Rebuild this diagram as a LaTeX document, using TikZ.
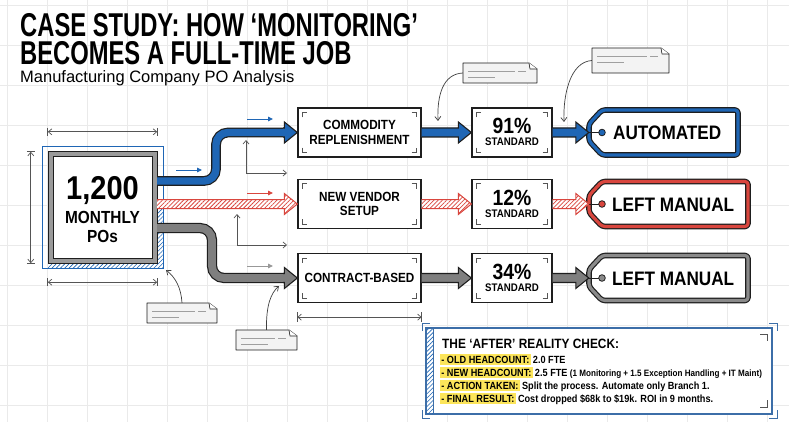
\documentclass[tikz,border=0pt]{standalone}
\usepackage{fontspec}
\setmainfont{Liberation Sans}
\newfontfamily\cf{Liberation Sans}[FakeStretch=0.88]
\newfontfamily\tf{Liberation Sans}[FakeStretch=0.72]
\usetikzlibrary{arrows.meta,patterns.meta,calc}
\definecolor{dark}{HTML}{1E1E1E}
\definecolor{myblue}{HTML}{1F66B5}
\definecolor{myred}{HTML}{D9463E}
\definecolor{mygray}{HTML}{7F7F7F}
\definecolor{taggray}{HTML}{8A8A8A}
\definecolor{gridc}{HTML}{EAEAEA}
\definecolor{hly}{HTML}{FCE55A}
\definecolor{notefill}{HTML}{F3F3F3}
\definecolor{markc}{HTML}{555555}
\definecolor{dimc}{HTML}{555555}
\definecolor{boxgray}{HTML}{9A9A9A}
\definecolor{ibc}{HTML}{3C6EA8}

\newcommand\cmarks[1]{\draw[markc, line width=0.7]
 ($(#1.north west)+(5,10)$) -- ($(#1.north west)+(5,5)$) -- ($(#1.north west)+(10,5)$)
 ($(#1.north east)+(-10,5)$) -- ($(#1.north east)+(-5,5)$) -- ($(#1.north east)+(-5,10)$)
 ($(#1.south west)+(5,-10)$) -- ($(#1.south west)+(5,-5)$) -- ($(#1.south west)+(10,-5)$)
 ($(#1.south east)+(-10,-5)$) -- ($(#1.south east)+(-5,-5)$) -- ($(#1.south east)+(-5,-10)$);}

\newcommand\blockarr[4]{%
 \path[#1] let \p1=(#3), \p2=(#4) in (\x1,\y1+4.5pt) -- (\x2-13pt,\y1+4.5pt) -- (\x2-13pt,\y1+10.5pt) -- (\x2,\y1) -- (\x2-13pt,\y1-10.5pt) -- (\x2-13pt,\y1-4.5pt) -- (\x1,\y1-4.5pt) -- cycle;
 \path[#2] let \p1=(#3), \p2=(#4) in (\x1,\y1+4.5pt) -- (\x2-13pt,\y1+4.5pt) -- (\x2-13pt,\y1+10.5pt) -- (\x2,\y1) -- (\x2-13pt,\y1-10.5pt) -- (\x2-13pt,\y1-4.5pt) -- (\x1,\y1-4.5pt);}

\newcommand\notepaper[5]{%
 \draw[dark, line width=0.8, fill=notefill, line join=round] (#2,#3) -- ({#4-8},#3) -- (#4,{#3+6}) -- (#4,#5) -- (#2,#5) -- cycle;
 \draw[dark, line width=0.6, fill=white, line join=round] ({#4-8},#3) -- ({#4-7},{#3+6}) -- (#4,{#3+6});
 \draw[gray!75, line width=0.7] ({#2+5},{#3+8}) -- ({#4-22},{#3+8}) ({#4-19},{#3+8}) -- ({#4-11},{#3+8}) ({#2+5},{#3+14}) -- ({#2+32},{#3+14});
 \node[inner sep=0, minimum width={#4-#2}, minimum height={#5-#3}] (#1) at ({(#2+#4)/2},{(#3+#5)/2}) {};}

\newcommand\tagshape[4]{% center y, right x, colour, name
 \draw[dark, line width=5.6, line join=round, rounded corners=3, fill=white] (589,{#1-8.5}) -- (602,{#1-22.5}) -- (#2,{#1-22.5}) -- (#2,{#1+22.5}) -- (602,{#1+22.5}) -- (589,{#1+8.5}) -- cycle;
 \draw[#3, line width=3.2, line join=round, rounded corners=3] (589,{#1-8.5}) -- (602,{#1-22.5}) -- (#2,{#1-22.5}) -- (#2,{#1+22.5}) -- (602,{#1+22.5}) -- (589,{#1+8.5}) -- cycle;
 \node[inner sep=0, minimum width={#2-589}, minimum height=45] (#4) at ({(589+#2)/2},#1) {};
 \draw[dark, line width=0.8] (#4.west) -- (598.7,#1);
 \draw[dark, line width=0.8, fill=#3] (602,#1) circle (3.3);}

\begin{document}
\begin{tikzpicture}[x=1pt,y=-1pt,
 pbox/.style={draw=dark, line width=1.3, fill=white, minimum width=123, minimum height=49, inner sep=0, align=center, font=\cf\bfseries\fontsize{13.3}{14.5}\selectfont},
 sbox/.style={pbox, minimum width=80},
 bl/.style={fill=myblue},
 gr/.style={fill=mygray},
 rd/.style={preaction={fill=white}, pattern={Lines[angle=45,distance=3pt,line width=0.8pt]}, pattern color=myred},
 outl/.style={draw=dark, line width=1.1, line join=miter},
 outr/.style={draw=myred, line width=1, line join=miter},
 dim/.style={draw=dimc, line width=0.7, {Straight Barb[length=3.5pt,width=6pt]}-{Straight Barb[length=3.5pt,width=6pt]}},
 larr/.style={draw=dimc, line width=0.7, {Straight Barb[length=3.5pt,width=6pt]}-{Straight Barb[length=3.5pt,width=6pt]}},
 guide/.style={line width=0.9, -{Triangle[length=5pt,width=4.5pt]}},
 thinarr/.style={draw=dark!85, line width=0.7, -{Straight Barb[length=4pt,width=6pt]}},
 hl/.style={anchor=base west, fill=hly, inner xsep=1.2pt, inner ysep=1.9pt, font=\cf\bfseries\fontsize{10.4}{11}\selectfont},
 vt/.style={anchor=base west, inner sep=0, xshift=2pt, font=\cf\bfseries\fontsize{10.4}{11}\selectfont},
 tagtxt/.style={anchor=base west, inner sep=0, font=\cf\bfseries\fontsize{19.5}{20}\selectfont},
 ttl/.style={anchor=base west, inner sep=0, text height=24pt, text depth=0pt, font=\tf\bfseries\fontsize{33}{34}\selectfont},
]
\useasboundingbox (0,0) rectangle (789,422);
\fill[white] (0,0) rectangle (789,422);
\foreach \gx in {7,47,...,787} \draw[gridc, line width=0.6] (\gx,0) -- (\gx,422);
\foreach \gy in {5,45,...,405} \draw[gridc, line width=0.6] (0,\gy) -- (789,\gy);

% titles
\node[ttl] (t1) at (20,37) {CASE STUDY: HOW ‘MONITORING’};
\node[ttl] (t2) at (20,65) {BECOMES A FULL-TIME JOB};
\node[anchor=base west, inner sep=0, text height=12pt, text depth=3pt, font=\fontsize{16.5}{18}\selectfont] (t3) at (20,83) {Manufacturing Company PO Analysis};

% main box
\path[pattern={Lines[angle=45,distance=3pt,line width=0.6pt]}, pattern color=myblue] (157,208) -- (163,208) -- (163,268) -- (48,268) -- (48,263) -- (157,263) -- cycle;
\draw[myblue, line width=0.8] (42,146) rectangle (163,268);
\draw[dark, line width=1, fill=boxgray] (48,152) rectangle (157,263);
\draw[dark, line width=1, fill=white] (53,157) rectangle (152,258);
\node[inner sep=0, minimum width=109, minimum height=111] (main) at (102.5,207.5) {};
\node[anchor=base, inner sep=0, font=\cf\bfseries\fontsize{33}{33}\selectfont] (m1) at (102.5,200) {1,200};
\node[anchor=base, inner sep=0, font=\cf\bfseries\fontsize{17.5}{18}\selectfont] (m2) at (102.5,223) {MONTHLY};
\node[anchor=base, inner sep=0, font=\cf\bfseries\fontsize{17.5}{18}\selectfont] (m3) at (102.5,242) {POs};

% dimensions of main box
\draw[dim] ($(main.north west)+(0,-20)$) -- ($(main.north east)+(0,-20)$);
\draw[dimc, line width=0.7] ($(main.north west)+(0,-24)$) -- ($(main.north west)+(0,-16)$) ($(main.north east)+(0,-24)$) -- ($(main.north east)+(0,-16)$);
\draw[dim] ($(main.south west)+(0,19)$) -- ($(main.south east)+(0,19)$);
\draw[dimc, line width=0.7] ($(main.south west)+(0,15)$) -- ($(main.south west)+(0,23)$) ($(main.south east)+(0,15)$) -- ($(main.south east)+(0,23)$);
\draw[dim] ($(main.north west)+(-17,0)$) -- ($(main.south west)+(-17,0)$);
\draw[dimc, line width=0.7] ($(main.north west)+(-21,0)$) -- ($(main.north west)+(-13,0)$) ($(main.south west)+(-21,0)$) -- ($(main.south west)+(-13,0)$);

% process boxes
\node[pbox] (p1) at (359.5,132.5) {COMMODITY\\REPLENISHMENT};
\node[pbox] (p2) at (359.5,204) {NEW VENDOR\\SETUP};
\node[pbox] (p3) at (359.5,278) {CONTRACT-BASED};
\node[sbox] (s1) at (512,132.5) {};
\node[sbox] (s2) at (512,204) {};
\node[sbox] (s3) at (512,278) {};
\foreach \n in {p1,p2,p3,s1,s2,s3} {\cmarks{\n}}
\node[anchor=base, inner sep=0, font=\cf\bfseries\fontsize{22}{22}\selectfont] at (512,133.5) {91\%};
\node[anchor=base, inner sep=0, font=\cf\bfseries\fontsize{11}{11}\selectfont] at (512,145.5) {STANDARD};
\node[anchor=base, inner sep=0, font=\cf\bfseries\fontsize{22}{22}\selectfont] at (512,205) {12\%};
\node[anchor=base, inner sep=0, font=\cf\bfseries\fontsize{11}{11}\selectfont] at (512,217.5) {STANDARD};
\node[anchor=base, inner sep=0, font=\cf\bfseries\fontsize{22}{22}\selectfont] at (512,279) {34\%};
\node[anchor=base, inner sep=0, font=\cf\bfseries\fontsize{11}{11}\selectfont] at (512,291.5) {STANDARD};
\draw[dim] ($(p3.south west)+(0,14)$) -- ($(p3.south east)+(0,14)$);
\draw[dimc, line width=0.7] ($(p3.south west)+(0,9)$) -- ($(p3.south west)+(0,19)$) ($(p3.south east)+(0,9)$) -- ($(p3.south east)+(0,19)$);

% tags
\tagshape{132.5}{738}{myblue}{tg1}
\tagshape{204}{748}{myred}{tg2}
\tagshape{278}{748}{taggray}{tg3}
\node[tagtxt] at (613,140) {AUTOMATED};
\node[tagtxt] at (612,211.5) {LEFT MANUAL};
\node[tagtxt] at (612,285.5) {LEFT MANUAL};

% first-column branch arrows
\coordinate (mb) at (157,181);
\coordinate (mr) at (157,204);
\coordinate (mg) at (157,228);
\coordinate (hb) at (283,132.5);
\coordinate (hg) at (283,278);
\draw[dark, line width=9.8, rounded corners=12] (mb) -- (216,181) -- (216,132.5) -- (287,132.5);
\draw[myblue, line width=7.4, rounded corners=12] (mb) -- (216,181) -- (216,132.5) -- (287,132.5);
\blockarr{bl}{outl}{hb}{p1.west}
\blockarr{rd}{outr}{mr}{p2.west}
\draw[dark, line width=10.2, rounded corners=12] (mg) -- (212,228) -- (212,278) -- (287,278);
\draw[mygray, line width=7.8, rounded corners=12] (mg) -- (212,228) -- (212,278) -- (287,278);
\blockarr{gr}{outl}{hg}{p3.west}

% second and third columns
\blockarr{bl}{outl}{p1.east}{s1.west}
\blockarr{rd}{outr}{p2.east}{s2.west}
\blockarr{gr}{outl}{p3.east}{s3.west}
\blockarr{bl}{outl}{s1.east}{tg1.west}
\blockarr{rd}{outr}{s2.east}{tg2.west}
\blockarr{gr}{outl}{s3.east}{tg3.west}

% guide arrows
\draw[guide, myblue] (176,170) -- (202,170);
\draw[guide, myblue] (247,119) -- (273,119);
\draw[guide, myred] (247,193) -- (273,193);
\draw[guide, mygray!80] (247,266) -- (273,266);
\draw[larr] (246,140) -- (246,173) -- (287,173);
\draw[larr] (237,214) -- (237,245) -- (287,245);

% notes
\notepaper{nA}{463}{63}{537}{83}
\notepaper{nB}{592}{48}{669}{73}
\notepaper{nC}{147}{303}{217}{323}
\notepaper{nD}{236}{330}{297}{350}
\coordinate (tA) at (438,121);
\coordinate (tB) at (564,122);
\coordinate (tC) at (166,270);
\coordinate (tD) at (279,286);
\draw[thinarr] (nA.west) .. controls (443,74) and (437,95) .. (tA);
\draw[thinarr] (nB.west) .. controls (570,62) and (563,95) .. (tB);
\draw[thinarr] (nC.north) .. controls (181,288) and (176,278) .. (tC);
\draw[thinarr] (nD.north) .. controls (266,305) and (271,293) .. (tD);

% info box
\draw[ibc, line width=1.6, fill=white] (426,328) rectangle (772,414);
\path[pattern={Lines[angle=45,distance=3pt,line width=0.6pt]}, pattern color=myblue] (427,329) rectangle (433,413);
\draw[ibc, line width=0.6] (433,329) -- (433,413);
\draw[ibc, line width=1] (422,331) -- (422,323) -- (430,323);
\draw[ibc, line width=1] (422,410) -- (422,418) -- (430,418);
\draw[ibc, line width=1] (769,323) -- (777,323) -- (777,331);
\draw[ibc, line width=1] (769,418) -- (777,418) -- (777,410);
\draw[markc, line width=0.9] (760,334) -- (767,334) -- (767,341);
\draw[markc, line width=0.9] (760,407) -- (767,407) -- (767,400);
\node[anchor=base west, inner sep=0, font=\cf\bfseries\fontsize{13.5}{14}\selectfont] (ihd) at (442,348) {THE ‘AFTER’ REALITY CHECK:};
\node[hl] (l1) at (440,363) {- OLD HEADCOUNT:};
\node[vt] (v1) at (l1.base east) {2.0 FTE};
\node[hl] (l2) at (440,376) {- NEW HEADCOUNT:};
\node[vt] (v2) at (l2.base east) {2.5 FTE};
\node[vt, font=\cf\bfseries\fontsize{9.2}{10}\selectfont] (v2b) at (v2.base east) {(1 Monitoring + 1.5 Exception Handling + IT Maint)};
\node[hl] (l3) at (440,389) {- ACTION TAKEN:};
\node[vt] (v3) at (l3.base east) {Split the process. Automate only Branch 1.};
\node[hl] (l4) at (440,402) {- FINAL RESULT:};
\node[vt] (v4) at (l4.base east) {Cost dropped \$68k to \$19k. ROI in 9 months.};
\end{tikzpicture}
\end{document}
